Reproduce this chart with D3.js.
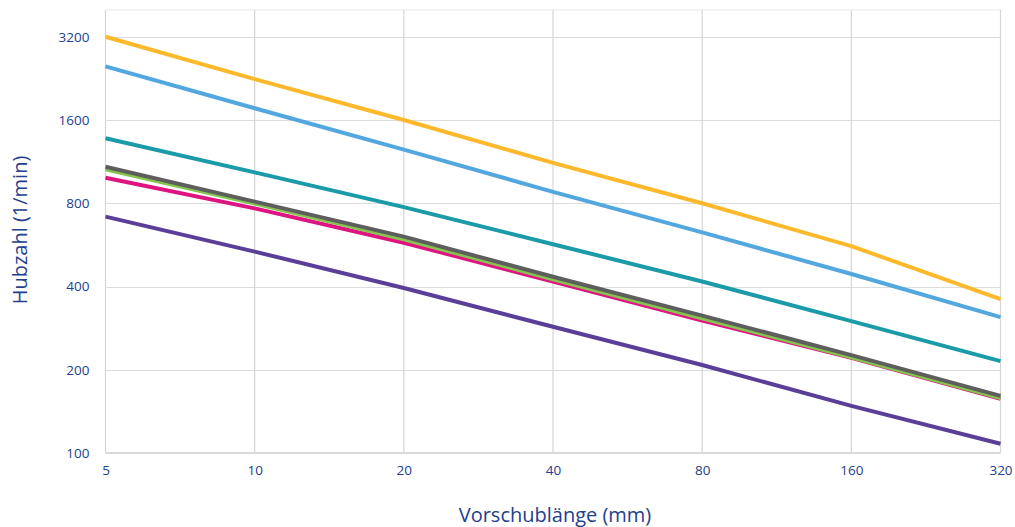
<!DOCTYPE html>
<html><head><meta charset="utf-8">
<script src="https://cdn.jsdelivr.net/npm/d3@7"></script>
<style>body{margin:0;background:#fff;} svg{display:block;}</style>
</head><body>
<svg id="c" width="1015" height="527"></svg>
<script>
const xValues = [5, 10, 20, 40, 80, 160, 320];
const yTicks = [100, 200, 400, 800, 1600, 3200];
const seriesYellow = [3200, 2250, 1600, 1120, 800, 560, 360];
const seriesBlue   = [2500, 1765, 1250, 880, 628, 444, 310];
const seriesTeal   = [1375, 1035, 775, 569, 417, 300, 215];
const seriesPink   = [990, 767, 576, 417, 301, 221, 157];
const seriesGreen  = [1062, 798, 593, 425, 307, 222, 158];
const seriesGray   = [1085, 811, 606, 434, 314, 226, 161];
const seriesPurple = [716, 535, 395, 286, 208, 148, 108];
const series = [
  {v: seriesYellow, c: "#FDB92B"},
  {v: seriesBlue, c: "#52A7DF"},
  {v: seriesTeal, c: "#1B9AA8"},
  {v: seriesPink, c: "#DE1480"},
  {v: seriesGreen, c: "#86C450"},
  {v: seriesGray, c: "#5E5E5E"},
  {v: seriesPurple, c: "#5A3F98"}
];
const L = 105.5, R = 1000.5, T = 10, B = 453;
const svg = d3.select("#c");
const x = d3.scaleLog().base(2).domain([5, 320]).range([L, R]);
const y = d3.scaleLog().base(2).domain([100, 4000]).range([B, T]);
const txt = "#23408E";
const font = "'Open Sans', 'Noto Sans', sans-serif";

// top border
svg.append("line").attr("x1", L).attr("x2", R).attr("y1", T).attr("y2", T)
  .attr("stroke", "#efefef").attr("stroke-width", 1.5);
// grid
svg.append("g").selectAll("line").data(yTicks.slice(1)).join("line")
  .attr("x1", L).attr("x2", R).attr("y1", d => Math.round(y(d)) + 0.5).attr("y2", d => Math.round(y(d)) + 0.5)
  .attr("stroke", "#dcdcdc").attr("stroke-width", 1.2);
svg.append("g").selectAll("line").data(xValues).join("line")
  .attr("x1", d => x(d)).attr("x2", d => x(d)).attr("y1", T).attr("y2", B)
  .attr("stroke", "#d6d6d6").attr("stroke-width", 1.2);
// bottom axis line
svg.append("line").attr("x1", L).attr("x2", R).attr("y1", B).attr("y2", B)
  .attr("stroke", "#d9d9d9").attr("stroke-width", 2);

// axes labels via d3 axes
const yAxis = d3.axisLeft(y).tickValues(yTicks).tickFormat(d3.format("d")).tickSize(0).tickPadding(16);
const gy = svg.append("g").attr("transform", `translate(${L},0)`).call(yAxis);
gy.select(".domain").remove();
gy.selectAll("text").attr("fill", txt).style("font-family", font).style("font-size", "13.5px");

const xAxis = d3.axisBottom(x).tickValues(xValues).tickFormat(d3.format("d")).tickSize(0).tickPadding(12);
const gx = svg.append("g").attr("transform", `translate(0,${B})`).call(xAxis);
gx.select(".domain").remove();
gx.selectAll("text").attr("fill", txt).style("font-family", font).style("font-size", "13.5px");

// lines
const line = d3.line().x((d, i) => x(xValues[i])).y(d => y(d));
svg.append("g").selectAll("path").data(series).join("path")
  .attr("d", d => line(d.v)).attr("fill", "none").attr("stroke", d => d.c)
  .attr("stroke-width", 4).attr("stroke-linejoin", "round");

// titles
svg.append("text").attr("x", 555).attr("y", 522).attr("text-anchor", "middle")
  .attr("fill", txt).style("font-family", font).style("font-size", "20px").text("Vorschublänge (mm)");
svg.append("text").attr("transform", "translate(27,230) rotate(-90)").attr("text-anchor", "middle")
  .attr("fill", txt).style("font-family", font).style("font-size", "20px").text("Hubzahl (1/min)");
</script>
</body></html>
